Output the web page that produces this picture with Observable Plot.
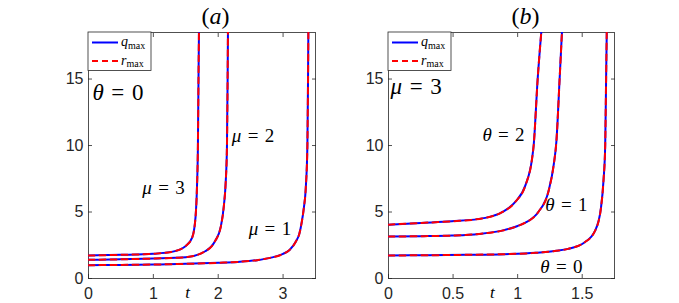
<!DOCTYPE html>
<html><head><meta charset="utf-8">
<script src="https://cdn.jsdelivr.net/npm/d3@7"></script>
<script src="https://cdn.jsdelivr.net/npm/@observablehq/plot@0.6"></script>
<style>
body{margin:0;background:#fff}
#wrap{position:relative;width:679px;height:303px;overflow:hidden;background:#fff}
#wrap > svg{position:absolute;top:0}
</style></head><body><div id="wrap"></div>
<script>
// ---------- data ----------
// Panel (a): theta = 0, curves for mu = 1, 2, 3
const tA_mu1 = [0, 0.5, 1.0, 1.5, 2.0, 2.3, 2.6, 2.8, 3.0, 3.1, 3.2, 3.25, 3.29, 3.32, 3.35, 3.375, 3.385, 3.39];
const yA_mu1 = [1.0, 1.02, 1.05, 1.1, 1.18, 1.25, 1.38, 1.55, 1.85, 2.15, 2.8, 3.35, 4.3, 5.3, 6.8, 10, 15, 18.5];
const tA_mu2 = [0, 0.5, 1.0, 1.5, 1.8, 1.95, 2.04, 2.09, 2.115, 2.135, 2.145, 2.15];
const yA_mu2 = [1.41, 1.44, 1.5, 1.6, 2.05, 2.8, 3.9, 5.6, 7.2, 10, 15, 18.5];
const tA_mu3 = [0, 0.5, 1.0, 1.3, 1.5, 1.6, 1.65, 1.672, 1.687, 1.696, 1.703];
const yA_mu3 = [1.73, 1.78, 1.86, 2.02, 2.45, 3.1, 4.6, 6.8, 10, 15, 18.5];
// Panel (b): mu = 3, curves for theta = 0, 1, 2
const tB_th0 = [0, 0.3, 0.6, 0.9, 1.14, 1.3, 1.39, 1.52, 1.6, 1.645, 1.665, 1.678, 1.685, 1.69];
const yB_th0 = [1.73, 1.75, 1.78, 1.83, 1.93, 2.08, 2.23, 2.73, 3.6, 5.3, 7.4, 10, 15, 18.5];
const tB_th1 = [0, 0.25, 0.49, 0.7, 0.88, 1.0, 1.06, 1.16, 1.24, 1.28, 1.30, 1.325, 1.343];
const yB_th1 = [3.15, 3.18, 3.23, 3.35, 3.6, 3.95, 4.2, 5.0, 6.6, 8.6, 10.3, 15, 18.5];
const tB_th2 = [0, 0.25, 0.49, 0.75, 0.88, 0.98, 1.06, 1.11, 1.124, 1.155, 1.183];
const yB_th2 = [4.05, 4.18, 4.3, 4.56, 4.99, 5.74, 7.0, 8.9, 10, 15, 18.5];

// axes
const yDomain = [0, 18.5];
const xDomainA = [0, 3.5];
const xDomainB = [0, 1.75];
const yTicks = [0, 5, 10, 15];
const xTicksA = [0, 1, 2, 3];
const xTicksB = [0, 0.5, 1, 1.5];

// texts
const titles = ["(a)", "(b)"];
const titleX = [1.96, 1.06];
const tLabelX = [1.53, 0.804];
const legendNames = ["q", "r"];
const labelsA = [
  {x: 2.21, y: 10.7, s: "μ = 2"},
  {x: 0.83, y: 6.85, s: "μ = 3"},
  {x: 2.47, y: 3.7, s: "μ = 1"}
];
const bigLabelA = [{x: 0.06, y: 14.0, s: "θ = 0"}];
const labelsB = [
  {x: 0.727, y: 10.8, s: "θ = 2"},
  {x: 1.214, y: 5.5, s: "θ = 1"},
  {x: 1.176, y: 0.9, s: "θ = 0"}
];
const bigLabelB = [{x: 0.015, y: 14.4, s: "μ = 3"}];

// ---------- build ----------
function rows(ts, ys, name) { return ts.map((t, i) => ({t, v: ys[i], series: name})); }
const dataA = [...rows(tA_mu1, yA_mu1, "mu1"), ...rows(tA_mu2, yA_mu2, "mu2"), ...rows(tA_mu3, yA_mu3, "mu3")];
const dataB = [...rows(tB_th0, yB_th0, "th0"), ...rows(tB_th1, yB_th1, "th1"), ...rows(tB_th2, yB_th2, "th2")];

const AX = "#262626";
const SERIF = "Liberation Serif, DejaVu Serif, serif";
const fixEq = s => s.replace(" = ", "\u2004=\u2004");

function panel(data, xDomain, xTicks, labels, bigLabel, title, tx, tlx, dims) {
  return Plot.plot({
    width: dims.width, height: 303,
    marginLeft: dims.ml, marginRight: dims.mr, marginTop: 32, marginBottom: 25,
    x: {domain: xDomain, label: null},
    y: {domain: yDomain, label: null},
    style: {fontFamily: "Liberation Sans", fontSize: "16px", color: AX, background: "transparent", overflow: "visible"},
    marks: [
      Plot.frame({stroke: AX, strokeWidth: 0.8}),
      Plot.axisX({ticks: xTicks, tickSize: 0, tickPadding: 9, tickFormat: d => String(d), fill: AX, fontSize: 16}),
      Plot.axisY({ticks: yTicks, tickSize: 0, tickPadding: 5, tickFormat: d => String(d), fill: AX, fontSize: 16}),
      Plot.axisX({ticks: xTicks, anchor: "bottom", tickSize: -4, text: null, stroke: AX, strokeWidth: 0.8}),
      Plot.axisX({ticks: xTicks, anchor: "top", tickSize: -4, text: null, stroke: AX, strokeWidth: 0.8}),
      Plot.axisY({ticks: yTicks, anchor: "left", tickSize: -4, text: null, stroke: AX, strokeWidth: 0.8}),
      Plot.axisY({ticks: yTicks, anchor: "right", tickSize: -4, text: null, stroke: AX, strokeWidth: 0.8}),
      Plot.line(data, {x: "t", y: "v", z: "series", stroke: "#0000ff", strokeWidth: 2, curve: "monotone-x", clip: true}),
      Plot.line(data, {x: "t", y: "v", z: "series", stroke: "#ff0000", strokeWidth: 2, strokeDasharray: "6,5", curve: "monotone-x", clip: true}),
      Plot.text(labels, {x: "x", y: "y", text: d => fixEq(d.s), textAnchor: "start", fontFamily: SERIF, fontSize: 19, fill: "black"}),
      Plot.text(bigLabel, {x: "x", y: "y", text: d => fixEq(d.s), textAnchor: "start", fontFamily: SERIF, fontSize: 23, fill: "black"}),
      Plot.text([title], {x: [tx], frameAnchor: "top", lineAnchor: "middle", dy: -16, text: d => d, fontFamily: SERIF, fontSize: 24, fill: "black"}),
      Plot.text(["t"], {x: [tlx], frameAnchor: "bottom", lineAnchor: "middle", dy: 14, text: d => d, fontFamily: SERIF, fontSize: 17, fill: "black"})
    ]
  });
}

function styleMath(svg) {
  svg.querySelectorAll(`g[font-family="${SERIF}"] text`).forEach(el => {
    const s = el.textContent;
    el.textContent = "";
    const re = /([θμtab])|([^θμtab]+)/g;
    let m;
    while ((m = re.exec(s))) {
      const ts = document.createElementNS("http://www.w3.org/2000/svg", "tspan");
      ts.textContent = m[0];
      if (m[1]) ts.setAttribute("font-style", "italic");
      el.appendChild(ts);
    }
  });
}

const wrap = document.getElementById("wrap");
const pA = panel(dataA, xDomainA, xTicksA, labelsA, bigLabelA, titles[0], titleX[0], tLabelX[0], {width: 340, ml: 88, mr: 25});
const pB = panel(dataB, xDomainB, xTicksB, labelsB, bigLabelB, titles[1], titleX[1], tLabelX[1], {width: 339, ml: 48, mr: 65});
pA.style.left = "0px"; pB.style.left = "340px";
styleMath(pA); styleMath(pB);
wrap.appendChild(pA); wrap.appendChild(pB);

// legends (overlay)
const ov = d3.select(wrap).append("svg").attr("width", 679).attr("height", 303).style("left", "0px");
[[88, 32], [388, 32]].forEach(([fx, fy]) => {
  const g = ov.append("g");
  g.append("rect").attr("x", fx).attr("y", fy).attr("width", 63).attr("height", 38.5)
    .attr("fill", "white").attr("stroke", AX).attr("stroke-width", 0.8);
  const rowsL = [{y: fy + 10.5, color: "#0000ff", dash: null, name: legendNames[0]},
                 {y: fy + 29, color: "#ff0000", dash: "6,4", name: legendNames[1]}];
  rowsL.forEach(r => {
    g.append("line").attr("x1", fx + 4).attr("x2", fx + 30).attr("y1", r.y).attr("y2", r.y)
      .attr("stroke", r.color).attr("stroke-width", 2).attr("stroke-dasharray", r.dash);
    const t = g.append("text").attr("x", fx + 33).attr("y", r.y + 3.5)
      .attr("font-family", SERIF).attr("font-size", 14).attr("fill", "black");
    t.append("tspan").attr("font-style", "italic").text(r.name);
    t.append("tspan").attr("font-size", 10).attr("dy", 2.5).text("max");
  });
});
</script></body></html>
